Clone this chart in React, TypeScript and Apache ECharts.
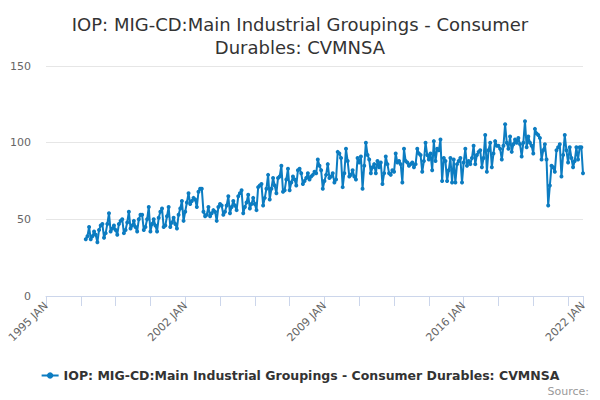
import React, { useEffect, useRef } from "react";
import * as echarts from "echarts";

const TITLE = "IOP: MIG-CD:Main Industrial Groupings - Consumer\nDurables: CVMNSA";
const SERIES_NAME = "IOP: MIG-CD:Main Industrial Groupings - Consumer Durables: CVMNSA";
const AXIS_START_YEAR = 1995;
const AXIS_END_YEAR = 2022; // axis ends at Jan of this year
const DATA_START = "1997-01";
const MONTH_NAMES = ["JAN", "FEB", "MAR", "APR", "MAY", "JUN", "JUL", "AUG", "SEP", "OCT", "NOV", "DEC"];
const Y_TICKS = [0, 50, 100, 150];

// Monthly values, Jan 1997 – Jan 2022
const values: number[] = [
  37, 39, 45, 37, 39, 42, 40, 35, 43, 46, 47, 38, // 1997
  41, 47, 54, 42, 44, 46, 43, 40, 47, 49, 50, 41, // 1998
  43, 48, 55, 44, 46, 49, 45, 42, 50, 53, 53, 43, // 1999
  45, 50, 58, 42, 47, 50, 46, 42, 51, 55, 57, 45, // 2000
  46, 52, 58, 45, 48, 51, 47, 44, 53, 57, 62, 49, // 2001
  55, 61, 67, 60, 62, 64, 63, 58, 68, 70, 70, 55, // 2002
  52, 53, 58, 52, 54, 56, 55, 49, 58, 60, 59, 53, // 2003
  55, 59, 65, 54, 58, 62, 59, 56, 65, 67, 69, 54, // 2004
  58, 61, 66, 57, 60, 64, 60, 56, 71, 72, 73, 59, // 2005
  64, 70, 79, 63, 70, 77, 72, 67, 77, 78, 85, 68, // 2006
  69, 76, 83, 69, 74, 78, 76, 72, 82, 83, 80, 73, // 2007
  75, 77, 80, 76, 78, 79, 81, 80, 89, 85, 82, 70, // 2008
  75, 79, 86, 77, 78, 80, 74, 76, 94, 93, 90, 71, // 2009
  80, 96, 88, 78, 79, 82, 78, 76, 90, 87, 91, 70, // 2010
  85, 100, 92, 89, 80, 84, 86, 80, 88, 84, 87, 73, // 2011
  80, 91, 86, 80, 79, 82, 81, 93, 87, 88, 86, 74, // 2012
  96, 88, 87, 85, 86, 87, 84, 86, 96, 93, 92, 81, // 2013
  88, 100, 92, 89, 93, 82, 101, 88, 96, 95, 102, 75, // 2014
  90, 88, 75, 82, 90, 74, 89, 74, 86, 88, 90, 74, // 2015
  87, 96, 85, 88, 86, 90, 98, 86, 92, 94, 95, 84, // 2016
  90, 105, 81, 95, 100, 84, 93, 101, 98, 98, 96, 89, // 2017
  98, 112, 100, 96, 104, 94, 99, 102, 100, 103, 99, 91, // 2018
  100, 114, 97, 104, 100, 98, 93, 109, 106, 105, 103, 89, // 2019
  95, 99, 89, 59, 72, 85, 84, 81, 95, 97, 99, 78, // 2020
  92, 105, 95, 87, 97, 90, 84, 88, 97, 89, 97, 97, // 2021
  80, // 2022
];

const categories: string[] = [];
for (let y = AXIS_START_YEAR; y <= AXIS_END_YEAR; y++) {
  for (let m = 1; m <= 12; m++) {
    if (y === AXIS_END_YEAR && m > 1) break;
    categories.push(`${y}-${String(m).padStart(2, "0")}`);
  }
}

export default function App() {
  const ref = useRef<HTMLDivElement>(null);
  useEffect(() => {
    if (!ref.current) return;
    const chart = echarts.init(ref.current, undefined, { renderer: "svg" });
    const startIdx = categories.indexOf(DATA_START);
    const seriesData: (number | null)[] = categories.map((_, i) => {
      const k = i - startIdx;
      return k >= 0 && k < values.length ? values[k] : null;
    });
    const last = categories.length - 1;
    const font = "'DejaVu Sans', sans-serif";
    const blue = "#0c7cc1";
    chart.setOption({
      animation: false,
      backgroundColor: "#ffffff",
      textStyle: { fontFamily: font },
      title: {
        text: TITLE,
        left: "center",
        top: 8,
        textStyle: { fontSize: 18, fontWeight: "normal", color: "#333333", lineHeight: 23, fontFamily: font },
      },
      grid: { left: 46, right: 17, top: 66, bottom: 104, containLabel: false },
      xAxis: {
        type: "category",
        data: categories,
        boundaryGap: false,
        axisLine: { lineStyle: { color: "#ccd6eb" } },
        axisTick: {
          show: true,
          length: 10,
          lineStyle: { color: "#ccd6eb" },
          interval: (i: number) => i % 21 === 0 || i === last,
        },
        axisLabel: {
          interval: (i: number) => i % 84 === 0 || i === last,
          rotate: 45,
          color: "#666666",
          fontSize: 11,
          margin: 8,
          formatter: (v: string) => {
            const [y, m] = v.split("-");
            return `${y} ${MONTH_NAMES[parseInt(m, 10) - 1]}`;
          },
        },
        splitLine: { show: false },
      },
      yAxis: {
        type: "value",
        min: Y_TICKS[0],
        max: Y_TICKS[Y_TICKS.length - 1],
        interval: Y_TICKS[1] - Y_TICKS[0],
        axisLine: { show: false },
        axisTick: { show: false },
        axisLabel: { color: "#666666", fontSize: 11, margin: 15 },
        splitLine: { lineStyle: { color: "#e6e6e6" } },
      },
      legend: {
        bottom: 13,
        left: "center",
        itemWidth: 17,
        itemHeight: 8,
        itemGap: 4,
        textStyle: { fontSize: 12.5, fontWeight: "bold", color: "#333333", fontFamily: font },
        data: [{ name: SERIES_NAME }],
      },
      series: [
        {
          name: SERIES_NAME,
          type: "line",
          data: seriesData,
          color: blue,
          symbol: "circle",
          symbolSize: 4,
          showSymbol: true,
          showAllSymbol: true,
          lineStyle: { width: 2, color: blue },
          itemStyle: { color: blue },
          connectNulls: false,
        },
      ],
      graphic: [
        {
          type: "text",
          right: 11,
          bottom: 3,
          style: { text: "Source:", fill: "#999999", fontSize: 11, fontFamily: font },
        },
      ],
    });
    return () => chart.dispose();
  }, []);
  return <div ref={ref} style={{ width: 600, height: 400, position: "absolute", left: 0, top: 0 }} />;
}
